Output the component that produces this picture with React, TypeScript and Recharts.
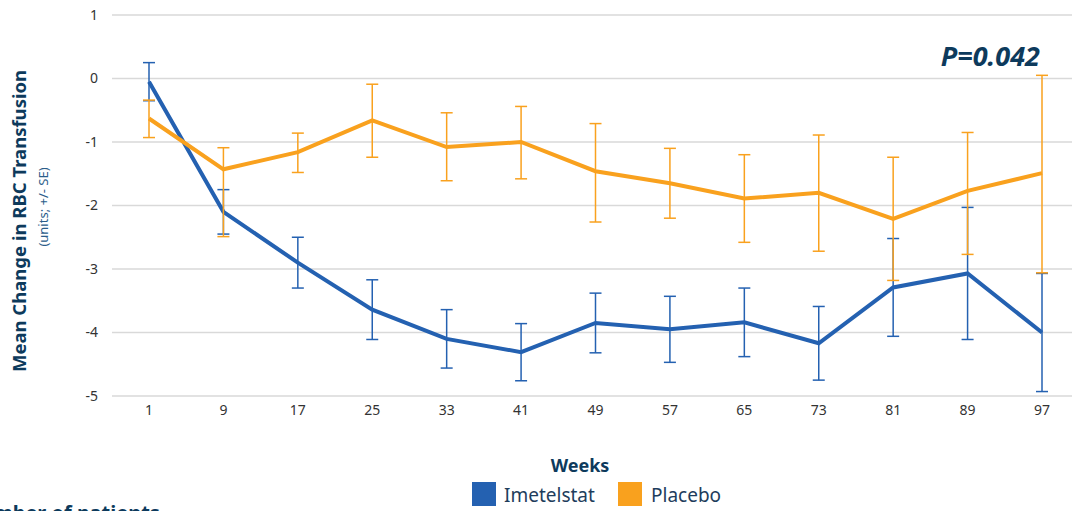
import { LineChart, Line, XAxis, YAxis, CartesianGrid, ErrorBar } from 'recharts'

const weeks = ['1', '9', '17', '25', '33', '41', '49', '57', '65', '73', '81', '89', '97']
const imetelstat = [-0.05, -2.1, -2.9, -3.64, -4.1, -4.31, -3.85, -3.95, -3.84, -4.17, -3.29, -3.07, -4.0]
const imetelstatSE = [0.3, 0.35, 0.4, 0.47, 0.46, 0.45, 0.47, 0.52, 0.54, 0.58, 0.77, 1.04, 0.93]
const placebo = [-0.63, -1.43, -1.16, -0.66, -1.08, -1.0, -1.46, -1.65, -1.89, -1.8, -2.21, -1.77, -1.49]
const placeboSELow = [0.3, 1.06, 0.32, 0.58, 0.53, 0.58, 0.8, 0.55, 0.69, 0.92, 0.97, 1.0, 1.57]
const placeboSEHigh = [0.29, 0.34, 0.3, 0.57, 0.54, 0.56, 0.75, 0.55, 0.69, 0.91, 0.97, 0.92, 1.54]
const yTicks = [-5, -4, -3, -2, -1, 0, 1]
const seriesNames = ['Imetelstat', 'Placebo']

const data = weeks.map((w, i) => ({
  week: w,
  imetelstat: imetelstat[i],
  imetelstatErr: [imetelstatSE[i], imetelstatSE[i]],
  placebo: placebo[i],
  placeboErr: [placeboSELow[i], placeboSEHigh[i]],
}))

const BLUE = '#2461b1'
const ORANGE = '#f9a11e'
const NAVY = '#0d3a5c'
const FONT = '"Noto Sans", "Open Sans", sans-serif'

export default function App() {
  return (
    <div style={{ position: 'absolute', left: 0, top: 0, width: 1072, height: 511, overflow: 'hidden', fontFamily: FONT }}>
      <LineChart width={1080} height={511} data={data} margin={{ top: 15, right: 1, left: 0, bottom: 0 }}>
        <CartesianGrid vertical={false} stroke="#d9d9d9" strokeWidth={1.5} />
        <XAxis
          dataKey="week"
          height={115}
          padding={{ left: 37, right: 37 }}
          axisLine={false}
          tickLine={false}
          tickMargin={3}
          tick={{ fontSize: 14, fill: '#333', fontFamily: FONT }}
        />
        <YAxis
          width={112}
          domain={[-5, 1]}
          ticks={yTicks}
          axisLine={false}
          tickLine={false}
          tickMargin={8}
          tick={{ fontSize: 14, fill: '#333', fontFamily: FONT }}
        />
        <Line
          name="Imetelstat"
          dataKey="imetelstat"
          stroke={BLUE}
          strokeWidth={4}
          dot={false}
          isAnimationActive={false}
        >
          <ErrorBar dataKey="imetelstatErr" width={6} stroke={BLUE} strokeWidth={1.5} direction="y" isAnimationActive={false} />
        </Line>
        <Line
          name="Placebo"
          dataKey="placebo"
          stroke={ORANGE}
          strokeWidth={4}
          dot={false}
          isAnimationActive={false}
        >
          <ErrorBar dataKey="placeboErr" width={6} stroke={ORANGE} strokeWidth={1.5} direction="y" isAnimationActive={false} />
        </Line>
      </LineChart>
      <svg width={1072} height={511} style={{ position: 'absolute', left: 0, top: 0, pointerEvents: 'none' }}>
        <text
          transform="translate(26, 221) rotate(-90)"
          textAnchor="middle"
          fontSize={18.5}
          fontWeight={700}
          fill={NAVY}
          fontFamily={FONT}
        >
          Mean Change in RBC Transfusion
        </text>
        <text
          transform="translate(48, 207) rotate(-90)"
          textAnchor="middle"
          fontSize={13}
          fill="#2b5d8a"
          fontFamily={FONT}
        >
          (units; +/- SE)
        </text>
        <text x={1040} y={66} textAnchor="end" fontSize={27} fontWeight={700} fontStyle="italic" fill={NAVY} fontFamily={FONT}>
          P=0.042
        </text>
        <text x={580} y={472} textAnchor="middle" fontSize={18} fontWeight={700} fill={NAVY} fontFamily={FONT}>
          Weeks
        </text>
        <g>
          <rect x={472} y={482} width={24} height={24} fill={BLUE} />
          <text x={504} y={502} fontSize={19} fill="#1e3d5c" fontFamily={FONT}>
            {seriesNames[0]}
          </text>
          <rect x={618} y={482} width={24} height={24} fill={ORANGE} />
          <text x={651} y={502} fontSize={19} fill="#1e3d5c" fontFamily={FONT}>
            {seriesNames[1]}
          </text>
        </g>
        <text x={-36} y={520} fontSize={20} fontWeight={700} fill={NAVY} fontFamily={FONT}>
          Number of patients
        </text>
      </svg>
    </div>
  )
}
